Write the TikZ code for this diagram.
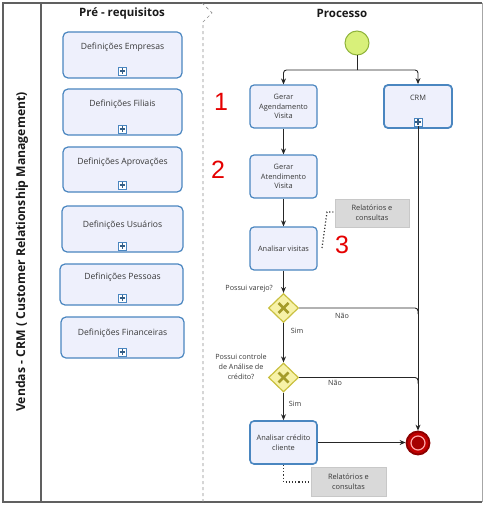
\documentclass[tikz,border=0pt]{standalone}
\usepackage{fontspec}
\setmainfont{Open Sans}
\newfontfamily\digitfont{Liberation Sans}
\usetikzlibrary{shapes.geometric,arrows.meta,calc}
\definecolor{taskblue}{HTML}{4A86C0}
\definecolor{taskfill}{HTML}{EEF0FC}
\definecolor{txt}{HTML}{383838}
\definecolor{gwfill}{HTML}{F7F2A8}
\definecolor{gwdraw}{HTML}{C9C040}
\definecolor{gwx}{HTML}{A59C2A}
\definecolor{notefill}{HTML}{D9D9D9}
\definecolor{notedraw}{HTML}{C8C8C8}
\definecolor{startfill}{HTML}{D8F07A}
\definecolor{startdraw}{HTML}{8FB33A}
\definecolor{frame}{HTML}{606060}
\tikzset{
  taskbox/.style={rectangle, rounded corners=4pt, draw=taskblue, fill=taskfill, line width=1.2pt, minimum width=67pt, minimum height=43pt, inner sep=1pt, align=center, text=txt, font=\fontsize{7.4}{9.6}\selectfont},
  defbox/.style={rectangle, rounded corners=5pt, draw=taskblue, fill=taskfill, line width=1.2pt, inner sep=0pt},
  deftext/.style={text=txt, font=\fontsize{8.6}{10}\selectfont, inner sep=0pt},
  plusicon/.style={rectangle, draw=taskblue, fill=white, minimum size=8pt, inner sep=0pt, line width=0.8pt,
    path picture={\draw[line width=1.4pt, taskblue!70!black] ([xshift=-2.6pt]path picture bounding box.center) -- ([xshift=2.6pt]path picture bounding box.center);
      \draw[line width=1.4pt, taskblue!70!black] ([yshift=-2.6pt]path picture bounding box.center) -- ([yshift=2.6pt]path picture bounding box.center);}},
  gateway/.style={diamond, draw=gwdraw, fill=gwfill, line width=1.2pt, minimum width=30pt, minimum height=29pt, inner sep=0pt,
    path picture={\draw[line width=2.6pt, gwx] ([xshift=-5pt,yshift=-5pt]path picture bounding box.center) -- ([xshift=5pt,yshift=5pt]path picture bounding box.center);
      \draw[line width=2.6pt, gwx] ([xshift=-5pt,yshift=5pt]path picture bounding box.center) -- ([xshift=5pt,yshift=-5pt]path picture bounding box.center);}},
  note/.style={rectangle, fill=notefill, draw=notedraw, line width=0.5pt, align=center, text=txt, font=\fontsize{7.4}{9.6}\selectfont, inner sep=1pt},
  lbl/.style={text=txt, font=\fontsize{7.2}{10}\selectfont, inner sep=0pt, align=center},
  flow/.style={draw=black!85, line width=0.9pt, -{Stealth[length=6pt,width=5pt]}},
  line/.style={draw=black!85, line width=0.9pt},
  assoc/.style={draw=black!80, line width=1.2pt, dotted},
  header/.style={font=\bfseries\fontsize{11.5}{13}\selectfont, text=black!90, inner sep=0pt},
  lanehead/.style={font=\bfseries\fontsize{12.2}{14}\selectfont, text=black!90, inner sep=0pt},
  rednum/.style={font=\digitfont\fontsize{25}{25}\selectfont, text=red!90!black, inner sep=0pt},
}
\begin{document}
\begin{tikzpicture}[x=1pt,y=-1pt]
\useasboundingbox (0,0) rectangle (484,505);
% frames
\draw[frame, line width=1.5pt] (482,3) -- (3,3) -- (3,502) -- (482,502);
\draw[black!35, line width=1pt] (482,3) -- (482,502);
\draw[frame, line width=1.5pt] (41,3) -- (41,502);
\draw[black!45, line width=0.7pt, dashed] (202,3) -- (212,13) -- (203,22) -- (203,502);
% lane label and headers
\node[lanehead, rotate=90] (lane) at (22,252) {Vendas - CRM ( Customer Relationship Management)};
\node[header] (h1) at (122,13) {Pré - requisitos};
\node[header] (h2) at (342,13) {Processo};
% left boxes
\node[defbox, minimum width=119pt, minimum height=46pt] (d1) at (122.5,55) {};
\node[deftext] (d1t) at (122.5,47) {Definições Empresas};
\node[plusicon] (d1p) at (122.5,71) {};
\node[defbox, minimum width=119pt, minimum height=46pt] (d2) at (122.5,112) {};
\node[deftext] (d2t) at (122.5,104) {Definições Filiais};
\node[plusicon] (d2p) at (122.5,129) {};
\node[defbox, minimum width=119pt, minimum height=45pt] (d3) at (122.5,169.5) {};
\node[deftext] (d3t) at (122.5,162) {Definições Aprovações};
\node[plusicon] (d3p) at (122.5,185) {};
\node[defbox, minimum width=121pt, minimum height=46pt] (d4) at (122.5,229) {};
\node[deftext] (d4t) at (122.5,225) {Definições Usuários};
\node[plusicon] (d4p) at (122.5,246) {};
\node[defbox, minimum width=123pt, minimum height=41pt] (d5) at (121.5,284.5) {};
\node[deftext] (d5t) at (122.5,277) {Definições Pessoas};
\node[plusicon] (d5p) at (122.5,298) {};
\node[defbox, minimum width=123pt, minimum height=41pt] (d6) at (122.5,337.5) {};
\node[deftext] (d6t) at (122.5,333) {Definições Financeiras};
\node[plusicon] (d6p) at (122.5,352) {};
% process
\node[circle, draw=startdraw, fill=startfill, line width=1pt, minimum size=24pt, inner sep=0pt] (start) at (357,43) {};
\node[taskbox] (ga) at (283.5,106.5) {Gerar\\Agendamento\\Visita};
\node[taskbox, line width=1.8pt, minimum width=68pt] (crm) at (418,106.5) {};
\node[lbl, font=\fontsize{7.4}{9}\selectfont] (crmt) at (418,98) {CRM};
\node[plusicon] (crmp) at (418,122) {};
\node[taskbox] (gat) at (283.5,176.5) {Gerar\\Atendimento\\Visita};
\node[taskbox] (av) at (283.5,248.5) {Analisar visitas};
\node[note, minimum width=74pt, minimum height=28pt] (rel1) at (372,213) {Relatórios e\\consultas};
\node[gateway] (g1) at (283.5,308) {};
\node[gateway] (g2) at (283.5,377.5) {};
\node[taskbox, line width=1.6pt] (ac) at (283.5,442.5) {Analisar crédito\\cliente};
\node[note, minimum width=75pt, minimum height=29pt] (rel2) at (348.5,481.5) {Relatórios e\\consultas};
\node[circle, draw=red!55!black, fill=red!75!black, line width=1.8pt, minimum size=23pt, inner sep=0pt] (end) at (418,443) {};
\node[circle, draw=red!35!white, fill=red!65!black, line width=1.2pt, minimum size=14pt, inner sep=0pt] (endin) at (418,443) {};
% labels
\node[lbl, anchor=east] (q1) at (273,289) {Possui varejo?};
\node[lbl] (n1) at (342,316) {Não};
\node[lbl] (s1) at (297,331) {Sim};
\node[lbl] (q2) at (241,366.5) {Possui controle\\de Análise de\\crédito?};
\node[lbl] (n2) at (335,383) {Não};
\node[lbl] (s2) at (295,404) {Sim};
\node[rednum] (r1) at (221,102) {1};
\node[rednum] (r2) at (218,170) {2};
\node[rednum] (r3) at (342,245) {3};
% connectors
\coordinate (split) at (357,70);
\draw[line] (start.south) -- (split);
\draw[flow, rounded corners=3pt] (split) -| (ga.north);
\draw[flow, rounded corners=3pt] (split) -| (crm.north);
\draw[flow] (ga) -- (gat);
\draw[flow] (gat) -- (av);
\draw[flow] (av) -- (g1);
\draw[flow] (g1) -- (g2);
\draw[flow] (g2) -- (ac);
\draw[flow] (ac.east) -- (end.west |- ac.east);
\draw[flow] (crmp.south) -- (end.north);
\draw[line, rounded corners=3pt] (g1.east) -- (crm.south |- g1.east) -- ([yshift=-6pt]crm.south |- g1.east);
\draw[line, rounded corners=3pt] (g2.east) -- (crm.south |- g2.east) -- ([yshift=-6pt]crm.south |- g2.east);
\coordinate (a1s) at (322,248);
\coordinate (a1m) at (327,212);
\draw[assoc] (a1s) -- (a1m) -- (rel1.west |- a1m);
\coordinate (a2m) at (283.5,482);
\draw[assoc] (ac.south) -- (a2m) -- (rel2.west |- a2m);
\end{tikzpicture}
\end{document}
